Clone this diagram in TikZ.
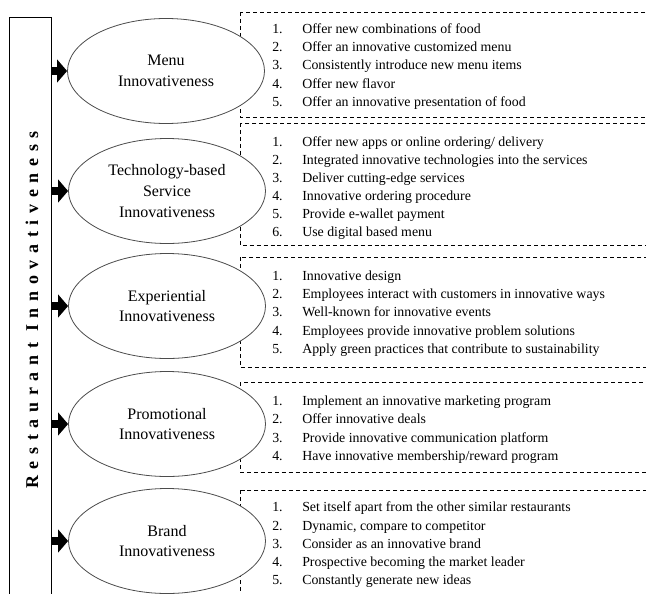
\documentclass[tikz,border=0pt]{standalone}
\usepackage{fontspec}
\setmainfont{Liberation Serif}
\newfontfamily\spacedbold[LetterSpace=37]{Liberation Serif}
\usetikzlibrary{shapes.geometric,arrows.meta}

\begin{document}
\begin{tikzpicture}[x=0.75pt,y=-0.75pt,
			dim/.style = {ellipse,draw=black!70,line width=0.6pt,fill=white,minimum width=147.75pt,minimum height=78.75pt,inner sep=0pt,align=center,font=\fontsize{12}{15.5}\selectfont},
			listbox/.style = {draw,line width=0.6pt,dash pattern=on 3pt off 2.2pt},
			item/.style = {anchor=base west,inner sep=0pt,font=\fontsize{10.4}{12}\selectfont},
			arr/.style = {line width=6pt,-{Triangle[length=7.5pt,width=17pt]}}]

\useasboundingbox (0,0) rectangle (646,593);
\clip (0,0) rectangle (646,593);

\node[draw,line width=0.75pt,minimum width=31.5pt,minimum height=452pt,inner sep=0pt] (bar) at (30,318.5) {};
\node[rotate=90,inner sep=0pt,font=\fontsize{13.5}{16}\selectfont\bfseries\spacedbold] (title) at (32,310) {Restaurant Innovativeness};

\draw[listbox] (240,12) rectangle (660,117);
\draw[listbox] (240,123) rectangle (660,245);
\draw[listbox] (240,257) rectangle (660,367);
\draw[listbox] (240,382) rectangle (660,472);
\draw[listbox] (240,490) rectangle (660,620);

\node[dim] (menu) at (166,71) {Menu\\Innovativeness};
\node[dim] (tech) at (167,191) {Technology-based\\Service\\Innovativeness};
\node[dim] (exper) at (167,306) {Experiential\\Innovativeness};
\node[dim] (promo) at (167,424) {Promotional\\Innovativeness};
\node[dim] (brand) at (167,541) {Brand\\Innovativeness};

\draw[arr] (bar.east |- menu.west) -- (menu.west);
\draw[arr] (bar.east |- tech.west) -- (tech.west);
\draw[arr] (bar.east |- exper.west) -- (exper.west);
\draw[arr] (bar.east |- promo.west) -- (promo.west);
\draw[arr] (bar.east |- brand.west) -- (brand.west);

\node[item] (m1) at (272,33) {\makebox[22.5pt][l]{1.}Offer new combinations of food};
\node[item] (m2) at (272,51) {\makebox[22.5pt][l]{2.}Offer an innovative customized menu};
\node[item] (m3) at (272,69) {\makebox[22.5pt][l]{3.}Consistently introduce new menu items};
\node[item] (m4) at (272,88) {\makebox[22.5pt][l]{4.}Offer new flavor};
\node[item] (m5) at (272,106) {\makebox[22.5pt][l]{5.}Offer an innovative presentation of food};

\node[item] (t1) at (272,146) {\makebox[22.5pt][l]{1.}Offer new apps or online ordering/ delivery};
\node[item] (t2) at (272,164) {\makebox[22.5pt][l]{2.}Integrated innovative technologies into the services};
\node[item] (t3) at (272,182) {\makebox[22.5pt][l]{3.}Deliver cutting-edge services};
\node[item] (t4) at (272,200) {\makebox[22.5pt][l]{4.}Innovative ordering procedure};
\node[item] (t5) at (272,218) {\makebox[22.5pt][l]{5.}Provide e-wallet payment};
\node[item] (t6) at (272,236) {\makebox[22.5pt][l]{6.}Use digital based menu};

\node[item] (e1) at (272,280) {\makebox[22.5pt][l]{1.}Innovative design};
\node[item] (e2) at (272,298) {\makebox[22.5pt][l]{2.}Employees interact with customers in innovative ways};
\node[item] (e3) at (272,316) {\makebox[22.5pt][l]{3.}Well-known for innovative events};
\node[item] (e4) at (272,335) {\makebox[22.5pt][l]{4.}Employees provide innovative problem solutions};
\node[item] (e5) at (272,353) {\makebox[22.5pt][l]{5.}Apply green practices that contribute to sustainability};

\node[item] (p1) at (272,405) {\makebox[22.5pt][l]{1.}Implement an innovative marketing program};
\node[item] (p2) at (272,423) {\makebox[22.5pt][l]{2.}Offer innovative deals};
\node[item] (p3) at (272,442) {\makebox[22.5pt][l]{3.}Provide innovative communication platform};
\node[item] (p4) at (272,460) {\makebox[22.5pt][l]{4.}Have innovative membership/reward program};

\node[item] (b1) at (272,511) {\makebox[22.5pt][l]{1.}Set itself apart from the other similar restaurants};
\node[item] (b2) at (272,530) {\makebox[22.5pt][l]{2.}Dynamic, compare to competitor};
\node[item] (b3) at (272,548) {\makebox[22.5pt][l]{3.}Consider as an innovative brand};
\node[item] (b4) at (272,566) {\makebox[22.5pt][l]{4.}Prospective becoming the market leader};
\node[item] (b5) at (272,584) {\makebox[22.5pt][l]{5.}Constantly generate new ideas};

\end{tikzpicture}
\end{document}
